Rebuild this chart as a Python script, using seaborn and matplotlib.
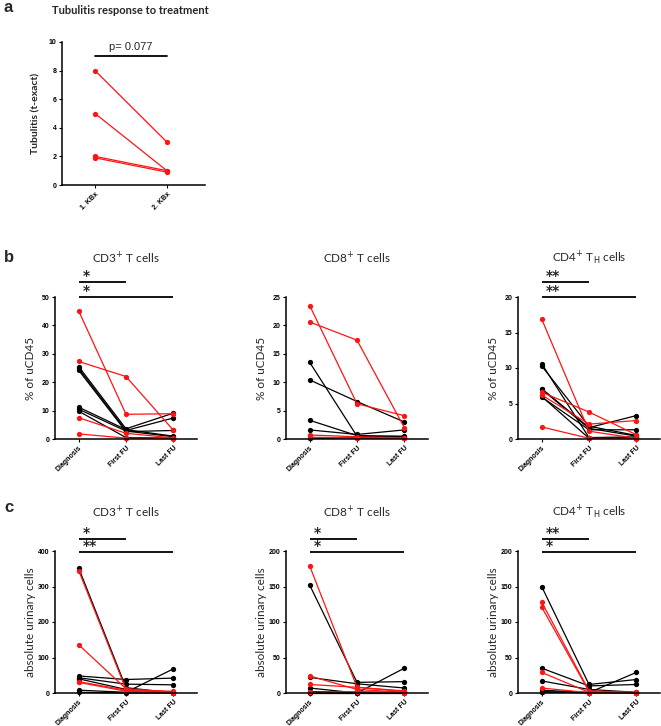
import pandas as pd
import seaborn as sns
import matplotlib.pyplot as plt

sns.set_theme(style="ticks")
plt.rcParams['font.family'] = ['Lato', 'DejaVu Sans']
plt.rcParams['mathtext.fontset'] = 'dejavusans'

RED = '#ff1414'
tick_font = {'family': 'Liberation Sans', 'weight': 'bold', 'size': 5}

# ---- data ----
kbx_labels = ['1. KBx', '2. KBx']
tub_first = [8.0, 5.0, 2.0, 1.9]
tub_second = [3.0, 1.0, 1.0, 0.9]

time_labels = ['Diagnosis', 'First FU', 'Last FU']

# % of uCD45, rows = patients, cols = Diagnosis / First FU / Last FU
cd3_pct_red = [[45.1, 8.7, 8.9], [27.3, 22.0, 3.1], [7.5, 2.0, 0.4], [1.8, 0.3, 0.1]]
cd3_pct_black = [[25.5, 3.6, 9.1], [24.8, 3.0, 7.4], [24.2, 2.6, 3.0],
                 [11.2, 3.3, 1.0], [10.5, 2.8, 0.8], [9.8, 0.5, 0.3]]
cd8_pct_red = [[23.5, 6.2, 4.1], [20.6, 17.4, 2.0], [0.7, 0.4, 0.2], [0.3, 0.2, 0.1]]
cd8_pct_black = [[13.5, 0.5, 0.3], [10.4, 6.6, 3.0], [3.3, 0.6, 0.5],
                 [1.6, 0.8, 1.6], [0.2, 0.3, 0.4], [0.1, 0.2, 0.1]]
cd4_pct_red = [[16.9, 1.1, 0.1], [6.6, 3.8, 0.6], [6.2, 2.1, 2.6], [1.7, 0.1, 0.05]]
cd4_pct_black = [[10.6, 0.2, 0.3], [10.3, 1.8, 0.5], [7.1, 1.6, 3.3],
                 [5.9, 1.3, 1.3], [7.0, 1.5, 0.4], [6.0, 0.1, 0.2]]

# absolute urinary cells
cd3_abs_red = [[345, 10, 3], [136, 12, 2], [32, 8, 5], [30, 5, 1]]
cd3_abs_black = [[352, 15, 0.5], [48, 38, 42], [43, 25, 23],
                 [40, 10, 0], [8, 2, 68], [2, 0, 0]]
cd8_abs_red = [[179, 8, 3], [24, 5, 1], [12, 8, 2], [1, 2, 0.5]]
cd8_abs_black = [[152, 15, 16], [22, 13, 7], [7, 0, 35],
                 [2, 1, 1], [0.5, 0.5, 0.5], [1, 0.2, 0.3]]
cd4_abs_red = [[128, 3, 1], [121, 2, 0.5], [29, 1, 0.5], [7, 0.5, 0.2]]
cd4_abs_black = [[150, 12, 19], [35, 10, 12], [17, 5, 1],
                 [4, 0.5, 29], [1, 1, 0.5], [2, 0.2, 0.3]]


def long_table(red, black, labels):
    rows = []
    for grp, arr in (('black', black), ('red', red)):
        for i, vals in enumerate(arr):
            for t, v in zip(labels, vals):
                rows.append({'subject': f'{grp}{i}', 'time': t, 'value': v, 'group': grp})
    return pd.DataFrame(rows)


def style_axes(ax, ymax, ystep, ylabel, xlim, bold_label=False, label_size=8.5):
    sns.despine(ax=ax)
    for s in ('left', 'bottom'):
        ax.spines[s].set_linewidth(1.1)
        ax.spines[s].set_color('black')
    ax.set_ylim(0, ymax)
    ax.set_xlim(*xlim)
    ax.set_yticks(range(0, ymax + 1, ystep))
    ax.tick_params(length=2.5, width=0.8, pad=1.5, colors='black')
    for lab in ax.get_yticklabels():
        lab.set_fontproperties(tick_font)
    for lab in ax.get_xticklabels():
        lab.set_fontproperties(tick_font)
        lab.set_rotation(45)
        lab.set_ha('right')
        lab.set_rotation_mode('anchor')
    ax.set_xlabel('')
    ax.set_ylabel(ylabel, fontsize=label_size,
                  fontweight='bold' if bold_label else 'normal')
    ax.yaxis.set_label_coords(-0.135, 0.5)


def paired_panel(ax, red, black, ymax, ystep, ylabel, title):
    df = long_table(red, black, time_labels)
    sns.lineplot(data=df, x='time', y='value', hue='group', units='subject',
                 estimator=None, hue_order=['black', 'red'],
                 palette={'black': 'black', 'red': RED}, marker='o',
                 markersize=3.8, markeredgewidth=0, linewidth=0.9,
                 legend=False, sort=False, clip_on=False, ax=ax)
    style_axes(ax, ymax, ystep, ylabel, (-0.5, 2.5))
    ax.text(0.5, 1.275, title, transform=ax.transAxes, ha='center', va='center',
            fontsize=8.5)


def bracket(ax, x0, x1, yfrac, stars):
    tr = ax.get_xaxis_transform()
    ax.plot([x0, x1], [yfrac, yfrac], color='black', lw=1.3, transform=tr,
            clip_on=False, solid_capstyle='butt')
    ax.text(x0 + 0.08, yfrac - 0.01, stars, transform=tr, ha='left', va='bottom',
            fontsize=10, fontweight='bold', fontfamily='DejaVu Sans')


fig = plt.figure(figsize=(6.61, 7.26), dpi=100)
W, H = 661, 726


def add_ax(left, top, width, height):
    return fig.add_axes([left / W, (H - top - height) / H, width / W, height / H])


# ---- panel a ----
ax_a = add_ax(62, 42, 143, 143)
df_a = pd.DataFrame({
    'subject': [f's{i}' for i in range(len(tub_first))] * 2,
    'time': [kbx_labels[0]] * len(tub_first) + [kbx_labels[1]] * len(tub_second),
    'value': tub_first + tub_second,
})
sns.lineplot(data=df_a, x='time', y='value', units='subject', estimator=None,
             color=RED, marker='o', markersize=3.8, markeredgewidth=0,
             linewidth=0.9, sort=False, clip_on=False, ax=ax_a)
style_axes(ax_a, 10, 2, 'Tubulitis (t-exact)', (-0.46, 1.53), bold_label=True,
           label_size=7.5)
ax_a.yaxis.set_label_coords(-0.15, 0.5)
ax_a.text(0.475, 1.22, 'Tubulitis response to treatment', transform=ax_a.transAxes,
          ha='center', va='center', fontsize=8, fontweight='bold')
tr = ax_a.get_xaxis_transform()
ax_a.plot([0, 1], [0.902, 0.902], color='black', lw=1.3, transform=tr, clip_on=False)
ax_a.text(0.5, 0.93, 'p= 0.077', transform=tr, ha='center', va='bottom',
          fontsize=8, fontfamily='Liberation Sans')

# ---- row b ----
ax_b1 = add_ax(55, 297, 142, 142)
paired_panel(ax_b1, cd3_pct_red, cd3_pct_black, 50, 10, '% of uCD45', r'CD3$^{+}$ T cells')
bracket(ax_b1, 0, 1, 1.106, '*')
bracket(ax_b1, 0, 2, 1.0, '*')

ax_b2 = add_ax(286, 297, 142, 142)
paired_panel(ax_b2, cd8_pct_red, cd8_pct_black, 25, 5, '% of uCD45', r'CD8$^{+}$ T cells')

ax_b3 = add_ax(518, 297, 142, 142)
paired_panel(ax_b3, cd4_pct_red, cd4_pct_black, 20, 5, '% of uCD45',
             r'CD4$^{+}$ T$_{\mathrm{H}}$ cells')
bracket(ax_b3, 0, 1, 1.106, '**')
bracket(ax_b3, 0, 2, 1.0, '**')

# ---- row c ----
ax_c1 = add_ax(55, 551, 142, 142)
paired_panel(ax_c1, cd3_abs_red, cd3_abs_black, 400, 100, 'absolute urinary cells',
             r'CD3$^{+}$ T cells')
bracket(ax_c1, 0, 1, 1.085, '*')
bracket(ax_c1, 0, 2, 0.995, '**')

ax_c2 = add_ax(286, 551, 142, 142)
paired_panel(ax_c2, cd8_abs_red, cd8_abs_black, 200, 50, 'absolute urinary cells',
             r'CD8$^{+}$ T cells')
bracket(ax_c2, 0, 1, 1.085, '*')
bracket(ax_c2, 0, 2, 0.995, '*')

ax_c3 = add_ax(518, 551, 142, 142)
paired_panel(ax_c3, cd4_abs_red, cd4_abs_black, 200, 50, 'absolute urinary cells',
             r'CD4$^{+}$ T$_{\mathrm{H}}$ cells')
bracket(ax_c3, 0, 1, 1.085, '**')
bracket(ax_c3, 0, 2, 0.995, '*')

# panel letters
for letter, ytop in (('a', 8), ('b', 258), ('c', 507)):
    fig.text(4 / W, 1 - ytop / H, letter, fontsize=12, fontweight='bold',
             ha='left', va='center', fontfamily='Liberation Sans')

fig.savefig('out.png', dpi=100)
